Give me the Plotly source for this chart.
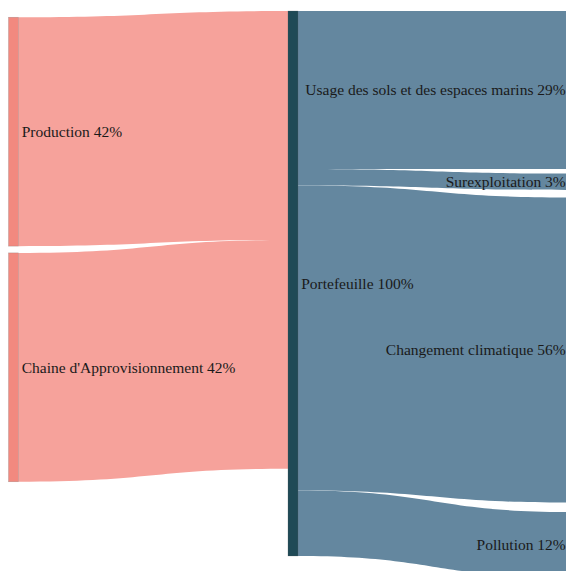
import plotly.graph_objects as go

# Data
sources_names = ["Production", "Chaine d'Approvisionnement"]
sources_values = [42, 42]
hub_name = "Portefeuille"
hub_value = 100
targets_names = ["Usage des sols et des espaces marins", "Surexploitation",
                 "Changement climatique", "Pollution"]
targets_values = [29, 3, 56, 12]

names = sources_names + [hub_name] + targets_names
values = sources_values + [hub_value] + targets_values
labels = [f"{n} {v}%" for n, v in zip(names, values)]

# node placement (relative to sankey domain)
node_x = [0.0097, 0.0097, 0.5035, 1.0, 1.0, 1.0, 1.0]
node_y = [0.2155, 0.6363, 0.4866, 0.1411, 0.3049, 0.6054, 0.9531]

hub = len(sources_names)
src, tgt, val, lcol = [], [], [], []
for i, v in enumerate(sources_values):
    src.append(i); tgt.append(hub); val.append(v); lcol.append("#F6A29B")
for j, v in enumerate(targets_values):
    src.append(hub); tgt.append(hub + 1 + j); val.append(v); lcol.append("#64879F")

node_colors = ["#F2897F"] * len(sources_names) + ["#1F4A56"] + ["#3B6584"] * len(targets_names)

fig = go.Figure(go.Sankey(
    arrangement="fixed",
    node=dict(
        label=labels,
        color=node_colors,
        x=node_x,
        y=node_y,
        pad=5,
        thickness=10,
        line=dict(color="rgba(90,90,90,0.4)", width=0.5),
    ),
    link=dict(source=src, target=tgt, value=val, color=lcol),
    textfont=dict(family="Liberation Serif", size=15.5,
                  color="#1a1a1a", shadow="none"),
))

fig.update_layout(
    width=566,
    height=563,
    margin=dict(l=0, r=0, t=3, b=0),
    paper_bgcolor="white",
    font=dict(family="Liberation Serif", size=15.5),
)

fig.write_html("out.html")
